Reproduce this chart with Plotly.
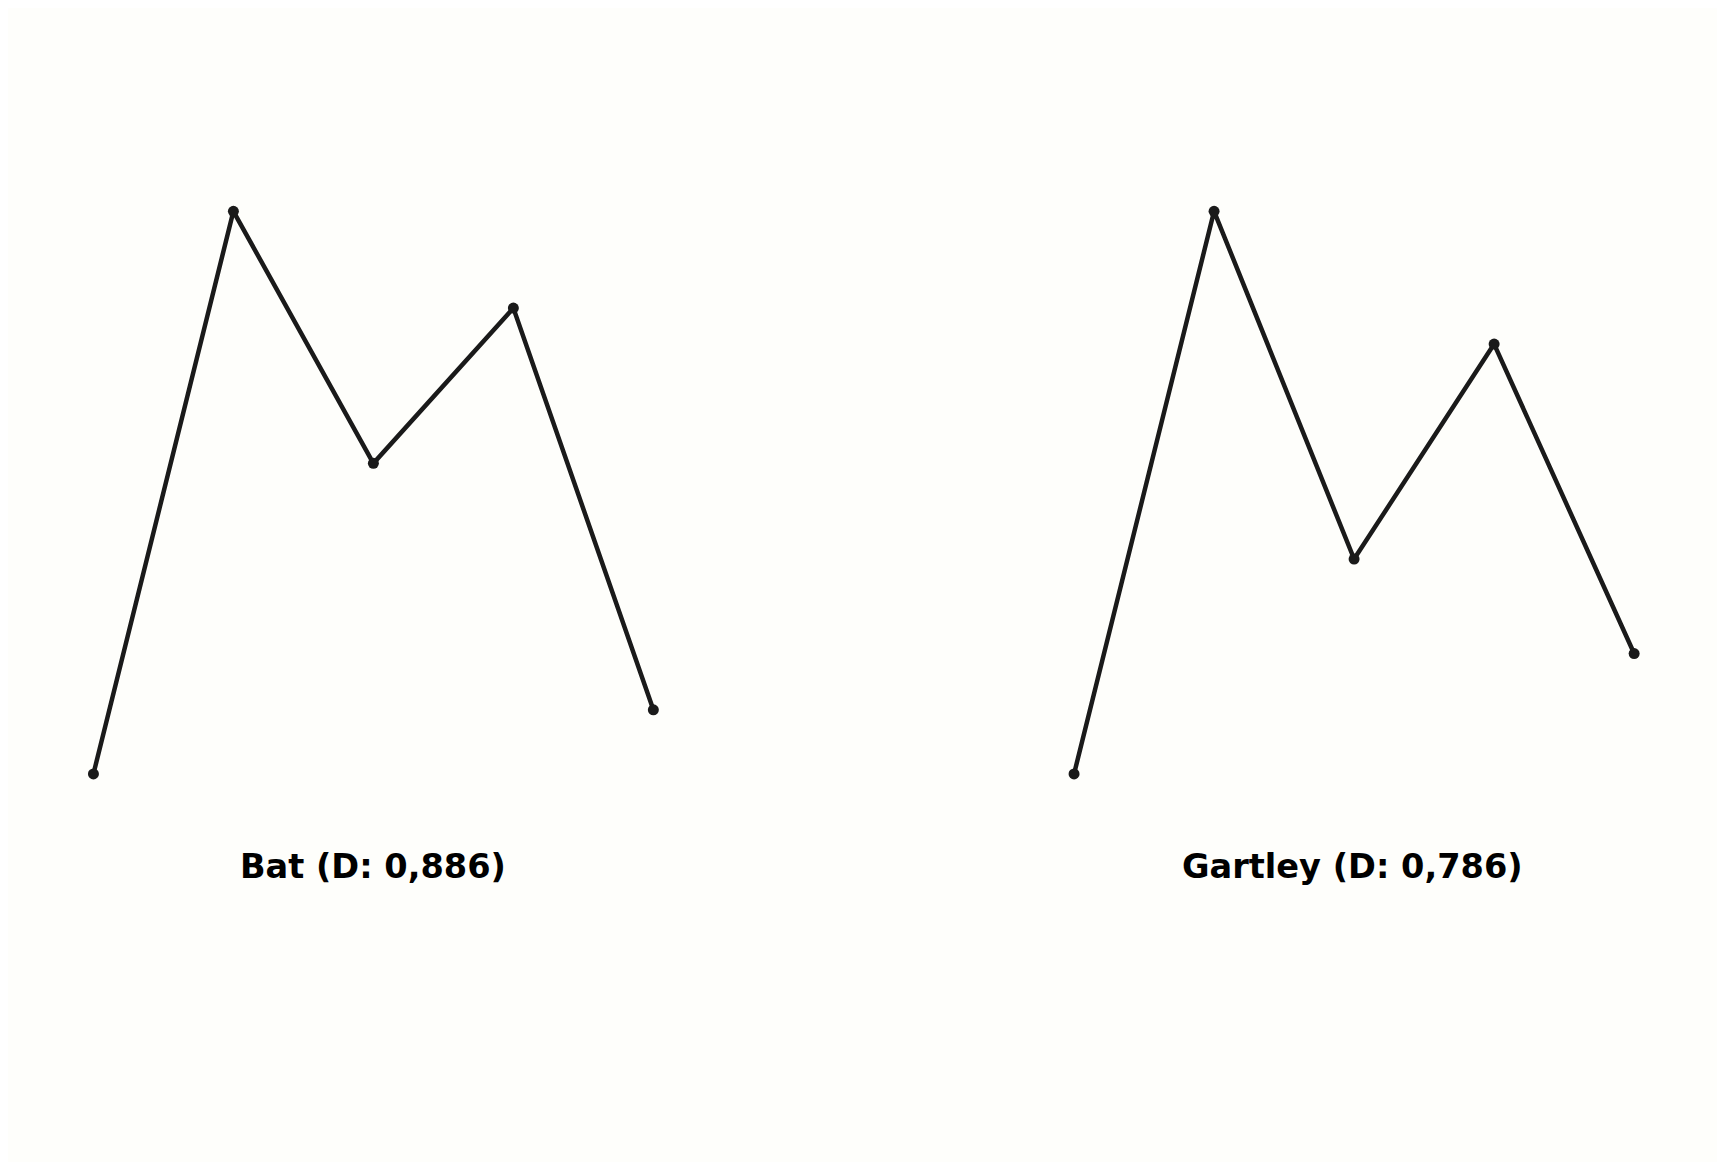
import plotly.graph_objects as go

# puntos del patrón (X, A, B, C, D)
puntos = [0, 1, 2, 3, 4]
bat_y = [0.0, 1.0, 0.552, 0.828, 0.114]
gartley_y = [0.0, 1.0, 0.382, 0.764, 0.214]
titulos = ["Bat (D: 0,886)", "Gartley (D: 0,786)"]

fondo = "#FEFEFB"
negro = "#1a1a1a"

fig = go.Figure()

fig.add_trace(go.Scatter(x=puntos, y=bat_y, mode="lines+markers",
                         line=dict(color=negro, width=4.5),
                         marker=dict(color=negro, size=11),
                         xaxis="x", yaxis="y", showlegend=False, hoverinfo="skip"))
fig.add_trace(go.Scatter(x=puntos, y=gartley_y, mode="lines+markers",
                         line=dict(color=negro, width=4.5),
                         marker=dict(color=negro, size=11),
                         xaxis="x2", yaxis="y2", showlegend=False, hoverinfo="skip"))

ejes = dict(visible=False, showgrid=False, zeroline=False, fixedrange=True)

# el body de la página tiene 8px de margen
fig.update_layout(
    width=1709, height=1154,
    margin=dict(l=0, r=0, t=0, b=0),
    paper_bgcolor=fondo, plot_bgcolor=fondo,
    xaxis=dict(domain=[0.0336, 0.3940], range=[-0.2, 4.2], **ejes),
    yaxis=dict(domain=[0.3119, 0.8482], range=[-0.05, 1.05], **ejes),
    xaxis2=dict(domain=[0.6074, 0.9679], range=[-0.2, 4.2], anchor="y2", **ejes),
    yaxis2=dict(domain=[0.3119, 0.8482], range=[-0.05, 1.05], anchor="x2", **ejes),
)

for t, xp in zip(titulos, [0.2138, 0.7870]):
    fig.add_annotation(text="<b>" + t + "</b>", x=xp, y=0.2562,
                       xref="paper", yref="paper",
                       showarrow=False, xanchor="center", yanchor="middle",
                       font=dict(family="DejaVu Sans", size=33.6, color="black"))

fig.write_html("out.html")
